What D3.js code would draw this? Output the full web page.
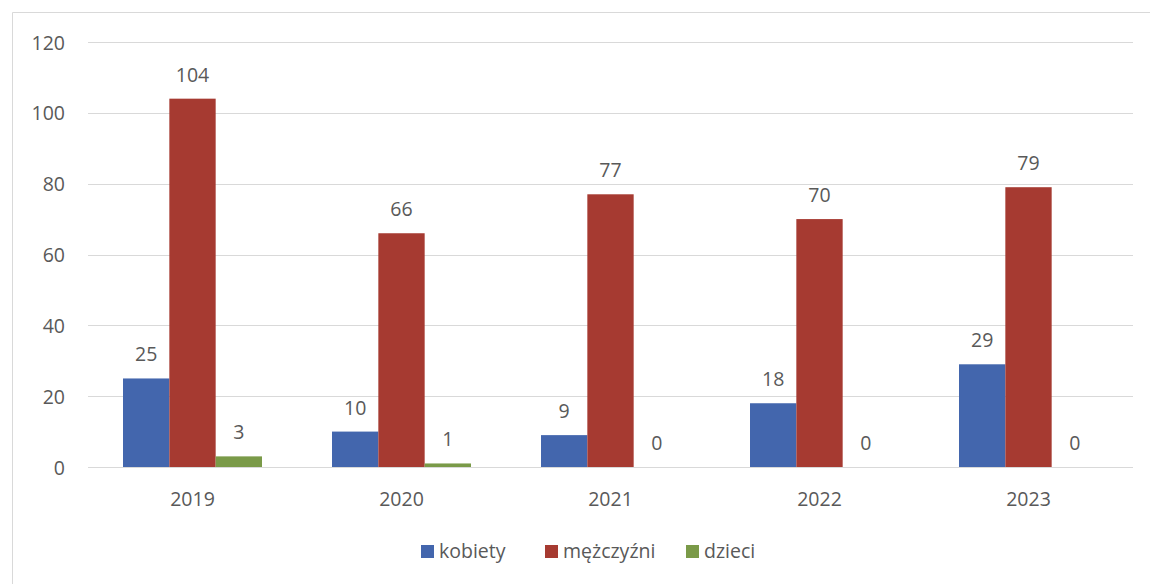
<!DOCTYPE html>
<html><head><meta charset="utf-8">
<script src="https://cdn.jsdelivr.net/npm/d3@7"></script>
<style>html,body{margin:0;padding:0;background:#fff;}</style>
</head><body>
<svg id="c" width="1150" height="584"></svg>
<script>
const years = ["2019","2020","2021","2022","2023"];
const seriesNames = ["kobiety","mężczyźni","dzieci"];
const kobiety = [25,10,9,18,29];
const mezczyzni = [104,66,77,70,79];
const dzieci = [3,1,0,0,0];
const yTicks = [0,20,40,60,80,100,120];
const colors = ["#4366ad","#a63a31","#7a9a48"];

const values = [kobiety, mezczyzni, dzieci];
const svg = d3.select("#c");
const font = "'Open Sans', sans-serif";
const fs = 19.5;
const textCol = "#595959";

// outer border
svg.append("path").attr("d","M12.5,584 L12.5,12.5 L1150,12.5").attr("fill","none").attr("stroke","#d9d9d9").attr("stroke-width",1);

const x0 = d3.scaleBand().domain(years).range([88,1133]).paddingInner(0.335).paddingOuter(0.1675);
const x1 = d3.scaleBand().domain(seriesNames).range([0,x0.bandwidth()]);
const y = d3.scaleLinear().domain([0,120]).range([467,42]);

// gridlines
svg.append("g").selectAll("line").data(yTicks).join("line")
  .attr("x1",88).attr("x2",1133)
  .attr("y1",d=>Math.round(y(d))+0.5).attr("y2",d=>Math.round(y(d))+0.5)
  .attr("stroke","#d9d9d9").attr("stroke-width",1.2);

// y labels
const yAxis = d3.axisLeft(y).tickValues(yTicks).tickSize(0).tickPadding(0);
const ya = svg.append("g").attr("transform","translate(65,0)").call(yAxis);
ya.select(".domain").remove();
ya.selectAll("text").attr("font-family",font).attr("font-size",fs).attr("fill",textCol).attr("dy","0.36em").attr("text-anchor","end");

// x labels
const xAxis = d3.axisBottom(x0).tickSize(0).tickPadding(0);
const xa = svg.append("g").attr("transform","translate(0,0)").call(xAxis);
xa.select(".domain").remove();
xa.selectAll("text").attr("font-family",font).attr("font-size",fs).attr("fill",textCol).attr("y",506).attr("dy",0);

// bars
const g = svg.append("g");
years.forEach((yr,i)=>{
  const gg = g.append("g").attr("transform",`translate(${x0(yr)},0)`);
  seriesNames.forEach((s,j)=>{
    const v = values[j][i];
    gg.append("rect").attr("x",x1(s)).attr("width",x1.bandwidth())
      .attr("y",y(v)).attr("height",y(0)-y(v)).attr("fill",colors[j]);
    gg.append("text").attr("x",x1(s)+x1.bandwidth()/2).attr("y",y(v)-17)
      .attr("text-anchor","middle").attr("font-family",font).attr("font-size",fs)
      .attr("fill",textCol).text(v);
  });
});

// legend
const legX = [421,545,686];
const lg = svg.append("g");
seriesNames.forEach((s,j)=>{
  lg.append("rect").attr("x",legX[j]).attr("y",545).attr("width",13).attr("height",13).attr("fill",colors[j]);
  lg.append("text").attr("x",legX[j]+18).attr("y",551.5).attr("dy","0.35em")
    .attr("font-family",font).attr("font-size",fs).attr("fill",textCol).text(s);
});
</script>
</body></html>
